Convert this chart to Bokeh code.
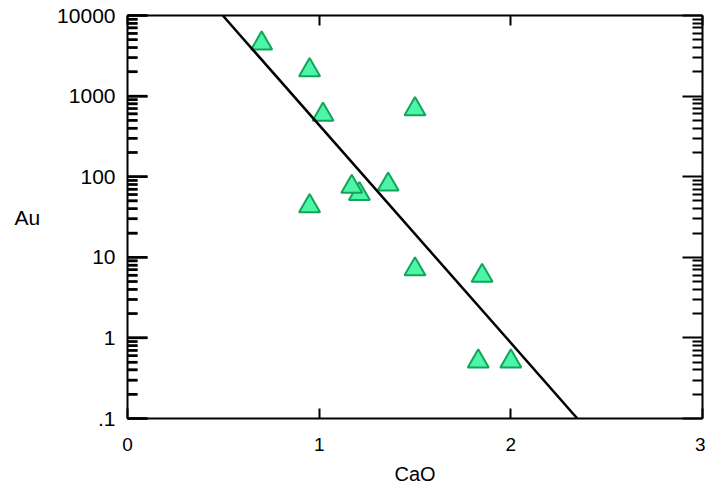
from bokeh.plotting import figure
from bokeh.models import Range1d, FixedTicker, LinearAxis, LogAxis
from bokeh.embed import file_html
from bokeh.resources import INLINE

# ---- data ----
cao = [0.70, 0.95, 1.02, 0.95, 1.21, 1.17, 1.36, 1.50, 1.50, 1.85, 1.83, 2.00]
au = [4500, 2100, 590, 43, 61, 75, 80, 690, 7.1, 5.9, 0.51, 0.51]

fit_x = [0.497, 2.347]
fit_y = [10000, 0.1]

x_ticks = [0, 1, 2, 3]
y_ticks = [0.1, 1, 10, 100, 1000, 10000]
y_tick_labels = [".1", "1", "10", "100", "1000", "10000"]
y_minor = [m * 10.0 ** k for k in range(-1, 4) for m in range(2, 10)]

FONT = "Liberation Sans"

p = figure(frame_width=575, frame_height=403,
           x_range=Range1d(x_ticks[0], x_ticks[-1]),
           y_range=Range1d(y_ticks[0], y_ticks[-1]),
           y_axis_type="log", x_axis_location=None, y_axis_location=None,
           output_backend="svg", toolbar_location=None,
           min_border_left=127, min_border_right=3, min_border_top=15,
           min_border_bottom=10)
p.outline_line_color = None
p.xgrid.visible = False
p.ygrid.visible = False
p.background_fill_color = "white"
p.border_fill_color = "white"


def style_axis(ax, major_in, minor_in):
    ax.axis_line_width = 2
    ax.axis_line_color = "black"
    ax.major_tick_line_width = 2
    ax.minor_tick_line_width = 2
    ax.major_tick_line_color = "black"
    ax.minor_tick_line_color = "black"
    ax.major_tick_in = major_in
    ax.major_tick_out = 0
    ax.minor_tick_in = minor_in
    ax.minor_tick_out = 0
    ax.major_label_text_color = "black"
    ax.axis_label_text_color = "black"
    ax.background_fill_color = None


right = LogAxis(ticker=FixedTicker(ticks=y_ticks, minor_ticks=y_minor),
                major_label_overrides={t: "" for t in y_ticks})
style_axis(right, 20, 10)
right.major_label_standoff = 0
p.add_layout(right, "right")

bottom = LinearAxis(ticker=FixedTicker(ticks=x_ticks, minor_ticks=[]),
                    axis_label="CaO",
                    major_label_overrides={t: str(t) for t in x_ticks})
style_axis(bottom, 10, 0)
bottom.major_label_text_font = FONT
bottom.major_label_text_font_size = "19px"
bottom.major_label_standoff = 19
bottom.axis_label_text_font = FONT
bottom.axis_label_text_font_size = "20px"
bottom.axis_label_text_font_style = "normal"
bottom.axis_label_standoff = 9
p.add_layout(bottom, "below")

top = LinearAxis(ticker=FixedTicker(ticks=x_ticks, minor_ticks=[]),
                 major_label_overrides={t: "" for t in x_ticks})
style_axis(top, 10, 0)
top.major_label_standoff = 0
p.add_layout(top, "above")

left = LogAxis(ticker=FixedTicker(ticks=y_ticks, minor_ticks=y_minor),
               axis_label="Au",
               major_label_overrides=dict(zip(y_ticks, y_tick_labels)))
style_axis(left, 20, 10)
left.major_label_text_font = FONT
left.major_label_text_font_size = "21px"
left.major_label_standoff = 12
left.axis_label_orientation = "horizontal"
left.axis_label_text_font = FONT
left.axis_label_text_font_size = "21px"
left.axis_label_text_font_style = "normal"
left.axis_label_standoff = 14
p.add_layout(left, "left")

# inward ticks along the left frame edge (drawn from the tick lists)
p.ray(x=[x_ticks[0]] * len(y_ticks), y=y_ticks, length=20,
      length_units="screen", angle=0, line_color="black", line_width=2.5,
      level="overlay")
p.ray(x=[x_ticks[0]] * len(y_minor), y=y_minor, length=10,
      length_units="screen", angle=0, line_color="black", line_width=2.5,
      level="overlay")

p.scatter(cao, au, marker="triangle", size=21,
          fill_color="#4cf5a8", line_color="#12a558", line_width=2)
p.line(fit_x, fit_y, line_color="black", line_width=2.5)

open("out.html", "w").write(file_html(p, INLINE))
